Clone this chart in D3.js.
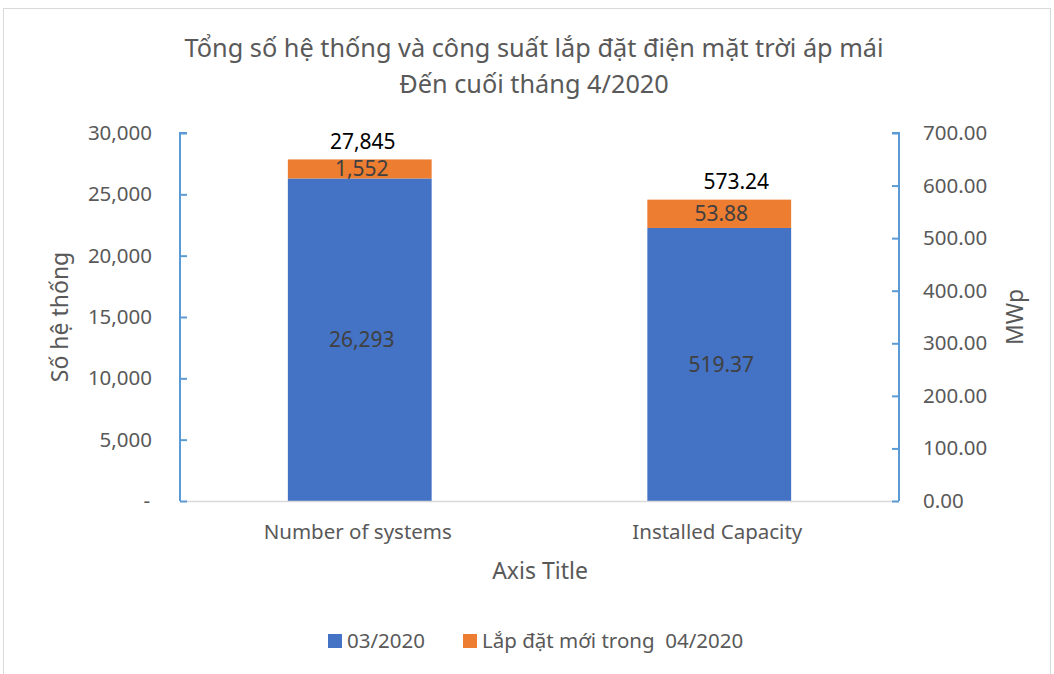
<!DOCTYPE html>
<html>
<head>
<meta charset="utf-8">
<script src="https://cdn.jsdelivr.net/npm/d3@7"></script>
<style>
  body { margin: 0; background: #fff; }
  svg { display: block; font-family: "Noto Sans", "Open Sans", sans-serif; }
</style>
</head>
<body>
<svg width="1054" height="674"></svg>
<script>
// data
var categories = ["Number of systems", "Installed Capacity"];
var seriesNames = ["03/2020", "Lắp đặt mới trong  04/2020"];
var seriesColors = ["#4472c4", "#ed7d31"];
var march = [26293, 519.37];
var newApril = [1552, 53.88];
var totals = [27845, 573.24];
var leftTicks = [0, 5000, 10000, 15000, 20000, 25000, 30000];
var rightTicks = [0, 100, 200, 300, 400, 500, 600, 700];

var svg = d3.select("svg"),
    margin = {top: 133, right: 155, bottom: 173, left: 180},
    width = 1054 - margin.left - margin.right,
    height = 674 - margin.top - margin.bottom,
    g = svg.append("g").attr("transform", "translate(" + margin.left + "," + margin.top + ")");

// chart border
svg.append("rect")
    .attr("x", 3.5).attr("y", 8.5)
    .attr("width", 1047).attr("height", 680)
    .attr("fill", "none")
    .attr("stroke", "#d9d9d9");

var x = d3.scaleBand().domain(categories).range([0, width]).padding(0);
var yLeft = d3.scaleLinear().domain([0, 30000]).range([height, 0]);
var yRight = d3.scaleLinear().domain([0, 700]).range([height, 0]);
var scales = [yLeft, yRight];
var fmtLeft = d3.format(",.0f"), fmtRight = d3.format(".2f");
var fmts = [fmtLeft, fmtRight];

var gray = "#595959";
var fs = "20.5px";

// title
svg.append("text")
    .attr("x", 534).attr("y", 57)
    .attr("text-anchor", "middle")
    .attr("fill", gray)
    .style("font-size", "25.3px")
    .text("Tổng số hệ thống và công suất lắp đặt điện mặt trời áp mái");
svg.append("text")
    .attr("x", 534).attr("y", 93)
    .attr("text-anchor", "middle")
    .attr("fill", gray)
    .style("font-size", "25.3px")
    .text("Đến cuối tháng 4/2020");

// bars
var barW = x.bandwidth() * 0.4;
var totalShift = [3, 17];
categories.forEach(function(c, i) {
  var y = scales[i];
  var cx = x(c) + x.bandwidth() / 2;
  g.append("rect")
      .attr("x", cx - barW / 2)
      .attr("y", y(march[i]))
      .attr("width", barW)
      .attr("height", y(0) - y(march[i]))
      .attr("fill", seriesColors[0]);
  g.append("rect")
      .attr("x", cx - barW / 2)
      .attr("y", y(march[i] + newApril[i]))
      .attr("width", barW)
      .attr("height", y(march[i]) - y(march[i] + newApril[i]))
      .attr("fill", seriesColors[1]);
  // labels
  g.append("text")
      .attr("x", cx + 2).attr("y", (y(0) + y(march[i])) / 2)
      .attr("dy", "0.35em")
      .attr("text-anchor", "middle")
      .attr("fill", "#404040")
      .style("font-size", "21px")
      .text(fmts[i](march[i]));
  g.append("text")
      .attr("x", cx + 2).attr("y", (y(march[i]) + y(march[i] + newApril[i])) / 2)
      .attr("dy", "0.35em")
      .attr("text-anchor", "middle")
      .attr("fill", "#404040")
      .style("font-size", "21px")
      .text(fmts[i](newApril[i]));
  g.append("text")
      .attr("x", cx + totalShift[i]).attr("y", y(totals[i]) - 18)
      .attr("dy", "0.35em")
      .attr("text-anchor", "middle")
      .attr("fill", "#000")
      .style("font-size", "21px")
      .text(fmts[i](totals[i]));
});

// bottom axis line
g.append("line")
    .attr("x1", 0).attr("x2", width)
    .attr("y1", height + 0.5).attr("y2", height + 0.5)
    .attr("stroke", "#d9d9d9").attr("stroke-width", 1.5);

// left axis
var axL = g.append("g")
    .attr("class", "axis axis--y")
    .call(d3.axisRight(yLeft).tickValues(leftTicks).tickSize(7).tickFormat(function(d) { return d === 0 ? "-" : fmtLeft(d); }));
axL.select(".domain").attr("stroke", "#5b9bd5").attr("stroke-width", 2).attr("d", "M7,0H0V" + height);
axL.selectAll(".tick line").attr("stroke", "#5b9bd5").attr("stroke-width", 2);
axL.selectAll(".tick text")
    .attr("x", -28).attr("text-anchor", "end")
    .attr("fill", gray)
    .style("font-size", fs)
    .style("font-family", "'Noto Sans', sans-serif");
axL.selectAll(".tick").filter(function(d) { return d === 0; }).select("text").attr("x", -30);

// right axis
var axR = g.append("g")
    .attr("class", "axis axis--y2")
    .attr("transform", "translate(" + width + ",0)")
    .call(d3.axisLeft(yRight).tickValues(rightTicks).tickSize(7).tickFormat(fmtRight));
axR.select(".domain").attr("stroke", "#5b9bd5").attr("stroke-width", 2).attr("d", "M-7,0H0V" + height);
axR.selectAll(".tick line").attr("stroke", "#5b9bd5").attr("stroke-width", 2);
axR.selectAll(".tick text")
    .attr("x", 24).attr("text-anchor", "start")
    .attr("fill", gray)
    .style("font-size", fs)
    .style("font-family", "'Noto Sans', sans-serif");

// category labels
categories.forEach(function(c) {
  g.append("text")
      .attr("x", x(c) + x.bandwidth() / 2 - 2)
      .attr("y", height + 31)
      .attr("dy", "0.35em")
      .attr("text-anchor", "middle")
      .attr("fill", gray)
      .style("font-size", fs)
      .text(c);
});

// axis titles
svg.append("text")
    .attr("x", 540).attr("y", 571)
    .attr("dy", "0.35em")
    .attr("text-anchor", "middle")
    .attr("fill", gray)
    .style("font-size", "23px")
    .text("Axis Title");
svg.append("text")
    .attr("transform", "translate(60,317) rotate(-90)")
    .attr("dy", "0.35em")
    .attr("text-anchor", "middle")
    .attr("fill", gray)
    .style("font-size", "23px")
    .text("Số hệ thống");
svg.append("text")
    .attr("transform", "translate(1015,317) rotate(-90)")
    .attr("dy", "0.35em")
    .attr("text-anchor", "middle")
    .attr("fill", gray)
    .style("font-size", "23px")
    .text("MWp");

// legend
var legendX = [328, 463];
seriesNames.forEach(function(n, i) {
  svg.append("rect")
      .attr("x", legendX[i]).attr("y", 634)
      .attr("width", 14).attr("height", 14)
      .attr("fill", seriesColors[i]);
  svg.append("text")
      .attr("x", legendX[i] + 19).attr("y", 641)
      .attr("dy", "0.35em")
      .attr("fill", gray)
      .style("font-size", fs)
      .style("white-space", "pre")
      .attr("xml:space", "preserve")
      .text(n);
});
</script>
</body>
</html>
